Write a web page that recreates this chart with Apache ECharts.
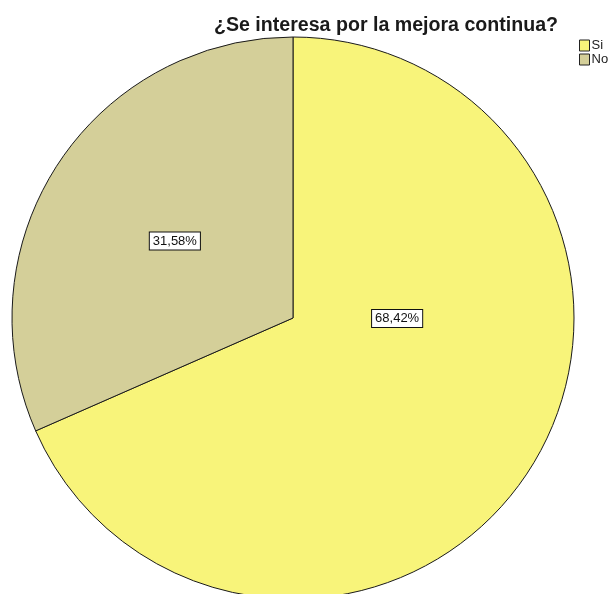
<!DOCTYPE html>
<html>
<head>
<meta charset="utf-8">
<script src="https://cdn.jsdelivr.net/npm/echarts@6/dist/echarts.min.js"></script>
<style>
  html, body { margin: 0; padding: 0; background: #ffffff; }
  #chart { width: 611px; height: 594px; }
</style>
</head>
<body>
<div id="chart"></div>
<script>
// Respuestas a la pregunta sobre mejora continua (porcentaje)
const categories = ['Si', 'No'];
const percentages = [68.42, 31.58];
const sliceColors = ['#f8f47a', '#d4cf99'];

const chart = echarts.init(document.getElementById('chart'), null, { renderer: 'canvas' });

const pieData = categories.map((name, i) => ({
  name: name,
  value: percentages[i],
  itemStyle: { color: sliceColors[i] }
}));

chart.setOption({
  backgroundColor: '#ffffff',
  animation: false,
  title: {
    text: '¿Se interesa por la mejora continua?',
    left: 381,
    top: 11,
    textAlign: 'center',
    textStyle: {
      fontFamily: 'Liberation Sans, Arial, sans-serif',
      fontSize: 19.6,
      fontWeight: 'bold',
      color: '#1a1a1a'
    }
  },
  legend: {
    orient: 'vertical',
    left: 579,
    top: 39,
    icon: 'rect',
    itemWidth: 10,
    itemHeight: 11,
    itemGap: 1,
    padding: 0,
    data: categories,
    itemStyle: { borderColor: '#222', borderWidth: 1 },
    textStyle: {
      fontFamily: 'Liberation Sans, Arial, sans-serif',
      fontSize: 13,
      color: '#222',
      padding: [0, 0, 0, -3]
    }
  },
  series: [{
    type: 'pie',
    center: [293, 318],
    radius: 281,
    startAngle: 90,
    clockwise: true,
    avoidLabelOverlap: false,
    data: pieData,
    itemStyle: { borderColor: '#1a1a1a', borderWidth: 1 },
    label: {
      show: true,
      position: 'inside',
      formatter: p => p.value.toFixed(2).replace('.', ',') + '%',
      fontFamily: 'Liberation Sans, Arial, sans-serif',
      fontSize: 13,
      color: '#111',
      backgroundColor: '#ffffff',
      borderColor: '#111',
      borderWidth: 1,
      padding: [2, 3, 2, 3]
    },
    labelLayout: function (params) {
      if (params.dataIndex === 0) {
        return { dx: -16, dy: -78 };
      }
      return { dx: 2, dy: 1.5 };
    },
    labelLine: { show: false },
    emphasis: { disabled: true }
  }]
});
</script>
</body>
</html>
